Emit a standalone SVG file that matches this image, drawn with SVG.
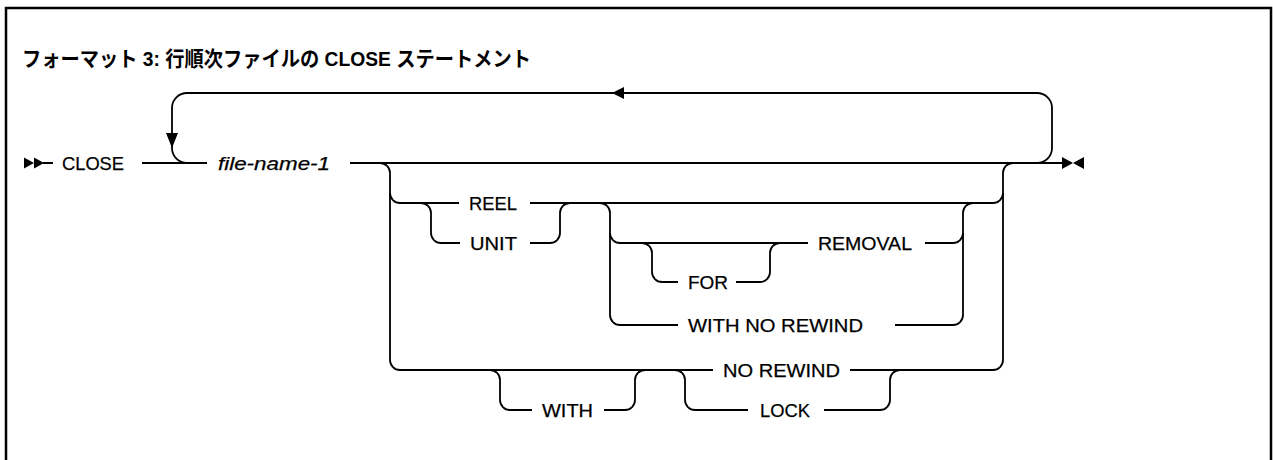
<svg xmlns="http://www.w3.org/2000/svg" width="1273" height="460" viewBox="0 0 1273 460">
<style>
.t{font-family:"Liberation Sans","Noto Sans",sans-serif;font-size:19px;fill:#000;stroke:#000;stroke-width:0.25}
.i{font-style:italic}
.ttl{font-family:"Liberation Sans","Noto Sans CJK JP",sans-serif;font-size:21px;font-weight:bold;fill:#000}
.l{fill:none;stroke:#000;stroke-width:1.8}
.a{fill:#000;stroke:none}
</style>
<rect x="6" y="8" width="1265" height="480" fill="#fff" stroke="#000" stroke-width="2.5"/>
<g id="title"><text class="ttl" x="22" y="65.5" textLength="509" lengthAdjust="spacingAndGlyphs">フォーマット 3: 行順次ファイルの CLOSE ステートメント</text></g>
<g id="connectors">
  <path class="a" d="M24,157.5 L34,163 L24,168.5 Z M34,157.5 L44,163 L34,168.5 Z"/>
  <path class="a" d="M1062,157 L1073,163 L1062,169 Z M1084,157 L1073,163 L1084,169 Z"/>
  <path class="l" d="M43,163 H53 M142,163 H207 M350,163 H1062"/>
  <path class="l" d="M1037,163 A15,15 0 0 0 1052,148 V108 A15,15 0 0 0 1037,93 H187 A15,15 0 0 0 172,108 V148 A15,15 0 0 0 187,163"/>
  <path class="a" d="M612,93 L624,87 L624,99 Z"/>
  <path class="a" d="M172,148 L166,133 L178,133 Z"/>
  <path class="l" d="M380,163 A10,10 0 0 1 390,173 V360 A10,10 0 0 0 400,370 H713"/>
  <path class="l" d="M1013,163 A10,10 0 0 0 1003,173 V360 A10,10 0 0 1 993,370 H850"/>
  <path class="l" d="M390,193 A10,10 0 0 0 400,203 H459 M530,203 H993 A10,10 0 0 0 1003,193"/>
  <path class="l" d="M421,203 A10,10 0 0 1 431,213 V233 A10,10 0 0 0 441,243 H460 M530,243 H550 A10,10 0 0 0 560,233 V213 A10,10 0 0 1 570,203"/>
  <path class="l" d="M600,203 A10,10 0 0 1 610,213 V233 A10,10 0 0 0 620,243 H808 M925,243 H953 A10,10 0 0 0 963,233 V213 A10,10 0 0 1 973,203"/>
  <path class="l" d="M610,233 V315 A10,10 0 0 0 620,325 H678 M895,325 H953 A10,10 0 0 0 963,315 V233"/>
  <path class="l" d="M642,243 A10,10 0 0 1 652,253 V272 A10,10 0 0 0 662,282 H678 M736,282 H760 A10,10 0 0 0 770,272 V253 A10,10 0 0 1 780,243"/>
  <path class="l" d="M490,370 A10,10 0 0 1 500,380 V400 A10,10 0 0 0 510,410 H532 M604,410 H625 A10,10 0 0 0 635,400 V380 A10,10 0 0 1 645,370"/>
  <path class="l" d="M675,370 A10,10 0 0 1 685,380 V400 A10,10 0 0 0 695,410 H748 M824,410 H880 A10,10 0 0 0 890,400 V380 A10,10 0 0 1 900,370"/>
</g>
<g id="n-close"><text class="t" x="62" y="170" textLength="62" lengthAdjust="spacingAndGlyphs">CLOSE</text></g>
<g id="n-filename"><text class="t i" x="218" y="170" textLength="112" lengthAdjust="spacingAndGlyphs">file-name-1</text></g>
<g id="n-reel"><text class="t" x="469" y="210" textLength="48" lengthAdjust="spacingAndGlyphs">REEL</text></g>
<g id="n-unit"><text class="t" x="470" y="250" textLength="47" lengthAdjust="spacingAndGlyphs">UNIT</text></g>
<g id="n-removal"><text class="t" x="818" y="250" textLength="94" lengthAdjust="spacingAndGlyphs">REMOVAL</text></g>
<g id="n-for"><text class="t" x="688" y="289" textLength="40" lengthAdjust="spacingAndGlyphs">FOR</text></g>
<g id="n-withnorewind"><text class="t" x="688" y="332" textLength="175" lengthAdjust="spacingAndGlyphs">WITH NO REWIND</text></g>
<g id="n-norewind"><text class="t" x="723" y="377" textLength="117" lengthAdjust="spacingAndGlyphs">NO REWIND</text></g>
<g id="n-with"><text class="t" x="542" y="417" textLength="51" lengthAdjust="spacingAndGlyphs">WITH</text></g>
<g id="n-lock"><text class="t" x="760" y="417" textLength="50" lengthAdjust="spacingAndGlyphs">LOCK</text></g>
</svg>
